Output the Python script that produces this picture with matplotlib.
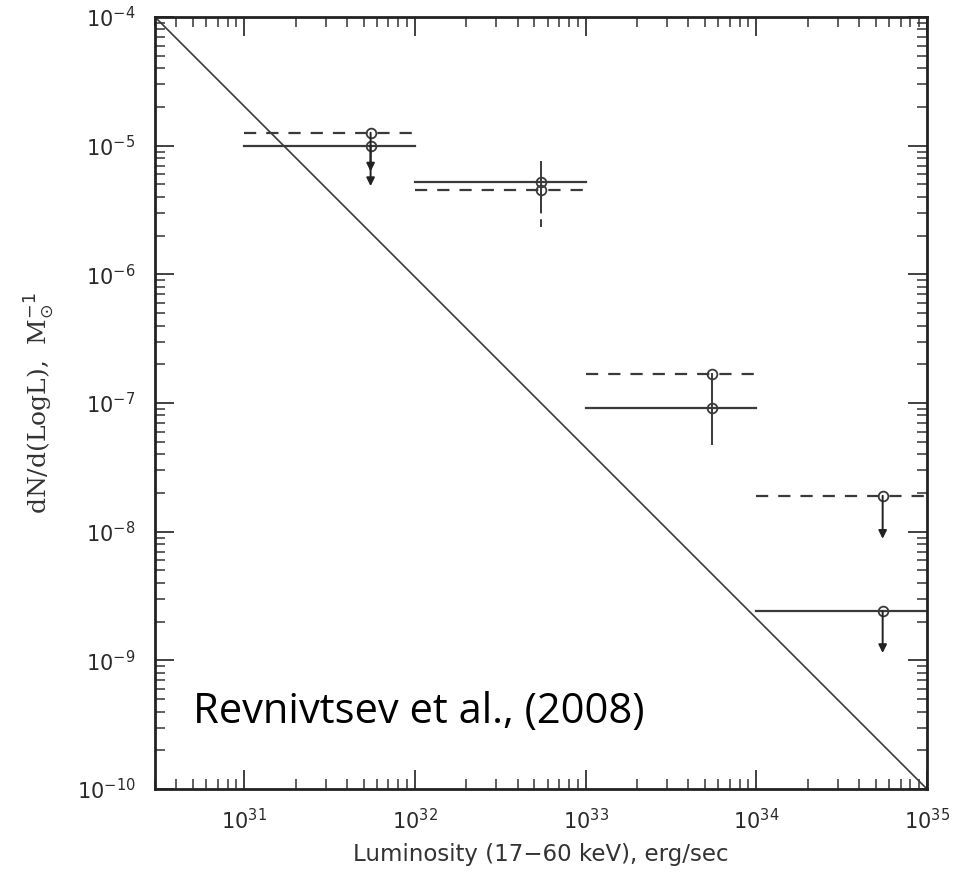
import matplotlib
matplotlib.use("Agg")
import matplotlib.pyplot as plt
import numpy as np

# luminosity bins and measured points
bin_lo = [1e31, 1e32, 1e33, 1e34]
bin_hi = [1e32, 1e33, 1e34, 1e35]
lum_pts = [5.5e31, 5.5e32, 5.5e33, 5.5e34]

# solid series
solid_val = [1.0e-5, 5.25e-6, 9.1e-8, 2.4e-9]
solid_lo = [6.3e-6, 3.2e-6, 4.8e-8, 1.14e-9]
solid_hi = [1.0e-5, 7.4e-6, 1.67e-7, 2.4e-9]
solid_is_limit = [True, False, False, True]

# dashed series
dashed_val = [1.26e-5, 4.5e-6, 1.67e-7, 1.9e-8]
dashed_lo = [4.85e-6, 2.35e-6, 1.67e-7, 8.8e-9]
dashed_hi = [1.26e-5, 6.0e-6, 1.67e-7, 1.9e-8]
dashed_is_limit = [True, False, False, True]

# model line
model_lum = [3e30, 1e35]
model_val = [1e-4, 1e-10]

# major tick positions
x_ticks = [1e31, 1e32, 1e33, 1e34, 1e35]
y_ticks = [1e-10, 1e-9, 1e-8, 1e-7, 1e-6, 1e-5, 1e-4]

LINE = "#3a3a3a"

plt.rcParams["font.family"] = ["DejaVu Sans"]
plt.rcParams["mathtext.fontset"] = "dejavusans"

fig = plt.figure(figsize=(9.59, 8.72), dpi=100)
ax = fig.add_axes([0.1616, 0.0952, 0.805, 0.8853])

ax.set_xscale("log")
ax.set_yscale("log")

ax.plot(model_lum, model_val, color=LINE, lw=1.2)


def draw_series(vals, lo, hi, is_lim, ls):
    for i in range(len(vals)):
        ax.plot([bin_lo[i], bin_hi[i]], [vals[i], vals[i]], color=LINE, lw=1.6,
                linestyle=ls, dashes=(5.5, 4.5) if ls == "--" else (None, None))
        if is_lim[i]:
            ax.annotate("", xy=(lum_pts[i], lo[i]), xytext=(lum_pts[i], vals[i]),
                        arrowprops=dict(arrowstyle="-|>", color="#222222", lw=1.4,
                                        mutation_scale=12, shrinkA=0, shrinkB=0))
        else:
            ax.plot([lum_pts[i], lum_pts[i]], [lo[i], hi[i]], color=LINE, lw=1.4,
                    linestyle=ls if ls == "-" else (0, (4, 3)))
        ax.plot(lum_pts[i], vals[i], marker="o", ms=7, mfc="none", mec=LINE, mew=1.3)


draw_series(solid_val, solid_lo, solid_hi, solid_is_limit, "-")
draw_series(dashed_val, dashed_lo, dashed_hi, dashed_is_limit, "--")

for s in ax.spines.values():
    s.set_linewidth(2.0)
    s.set_color("#222222")

# fixed major ticks so no out-of-range labels exist
ax.set_xticks(x_ticks)
ax.set_yticks(y_ticks)
ax.xaxis.set_minor_locator(matplotlib.ticker.LogLocator(base=10, subs=np.arange(2, 10), numticks=20))
ax.yaxis.set_minor_locator(matplotlib.ticker.LogLocator(base=10, subs=np.arange(2, 10), numticks=20))
ax.xaxis.set_minor_formatter(matplotlib.ticker.NullFormatter())
ax.yaxis.set_minor_formatter(matplotlib.ticker.NullFormatter())
ax.set_xlim(3e30, 1e35)
ax.set_ylim(1e-10, 1e-4)

ax.tick_params(which="both", direction="in", top=True, right=True, colors="#333333")
ax.tick_params(which="major", length=14, width=1.3, labelsize=15, labelcolor="#2a2a2a")
ax.tick_params(which="minor", length=7, width=1.1)
ax.tick_params(axis="x", which="major", pad=14)
ax.tick_params(axis="y", which="major", pad=14)

ax.set_xlabel("Luminosity (17\u221260 keV), erg/sec", fontsize=16.5, color="#333333", labelpad=7)
ax.set_ylabel(r"dN/d(LogL),  M$_{\odot}^{-1}$", fontsize=18, color="#333333",
              family="DejaVu Serif", labelpad=14)

ax.text(0.049, 0.085, "Revnivtsev et al., (2008)", transform=ax.transAxes,
        fontsize=30, family="Open Sans", color="black")

fig.savefig("out.png", dpi=100)
